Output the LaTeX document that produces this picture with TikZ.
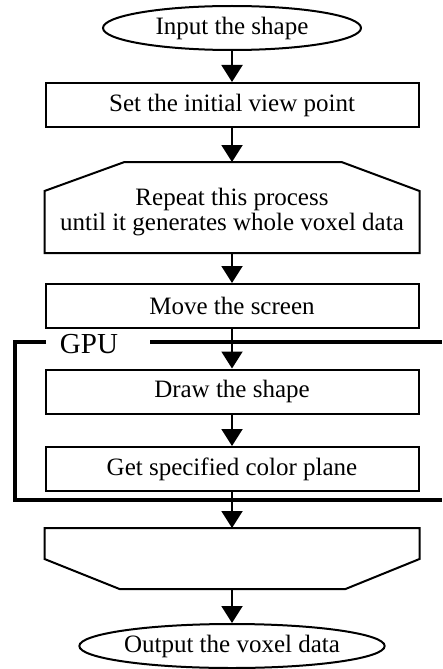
\documentclass[tikz,border=0pt]{standalone}
\usepackage{fontspec}
\setmainfont{Liberation Serif}
\usetikzlibrary{shapes.geometric, positioning, arrows.meta}

\begin{document}
\begin{tikzpicture}[x=1pt, y=-1pt, node distance=88pt, on grid, line width=2pt,
                    font=\fontsize{25}{25}\selectfont]
                \tikzset{
                    terminal/.style={draw, ellipse, inner sep=0pt, minimum width=258pt, minimum height=44pt},
                    process/.style={draw, rectangle, inner sep=0pt, minimum width=373pt, minimum height=44pt},
                    loopbox/.style={rectangle, inner sep=0pt, minimum width=373pt, align=center},
                    flow/.style={-{Triangle[length=17pt, width=21pt]}},
                    frame/.style={line width=3.3pt}
                }
                \useasboundingbox (0,0) rectangle (442,669);

                \node[terminal] (in) at (232,28) {Input the shape};
                \node[process] (init) [below=77pt of in] {Set the initial view point};
                \node[loopbox, minimum height=89pt] (rep) [below=102.5pt of init] {\rule{0pt}{27pt}Repeat this process\\until it generates whole voxel data};
                \node[process] (move) [below=98.5pt of rep] {Move the screen};
                \node[process] (render) [below=85.5pt of move] {Draw the shape};
                \node[process] (getplane) [below=77.5pt of render] {Get specified color plane};
                \node[loopbox, minimum height=59pt] (lend) [below=89.5pt of getplane] {};
                \node[terminal, minimum width=268pt] (out) [below=87.5pt of lend] {Output the voxel data};

                % loop limits
                \draw (rep.south west) -- ([yshift=-29pt]rep.north west) -- ([xshift=80pt]rep.north west)
                    -- ([xshift=-78pt]rep.north east) -- ([yshift=-29pt]rep.north east) -- (rep.south east) -- cycle;
                \draw (lend.north west) -- ([yshift=30pt]lend.south west) -- ([xshift=75pt]lend.south west)
                    -- ([xshift=-74pt]lend.south east) -- ([yshift=30pt]lend.south east) -- (lend.north east) -- cycle;

                % GPU frame
                \node[inner sep=0pt, font=\fontsize{29}{29}\selectfont] (gpu) at (89,344) {GPU};
                \coordinate (ftl) at (46,342);
                \coordinate (ftr) at (150,342);
                \coordinate (fre) at (442,342);
                \coordinate (fbl) at (15,500);
                \coordinate (fbr) at (442,500);
                \draw[frame] (ftl) -| (fbl) -- (fbr);
                \draw[frame] (ftr) -- (fre);

                \draw[flow] (in) -- (init);
                \draw[flow] (init) -- (rep);
                \draw[flow] (rep) -- (move);
                \draw[flow] (move) -- (render);
                \draw[flow] (render) -- (getplane);
                \draw[flow] (getplane) -- (lend);
                \draw[flow] (lend) -- (out);

            \end{tikzpicture}
\end{document}
